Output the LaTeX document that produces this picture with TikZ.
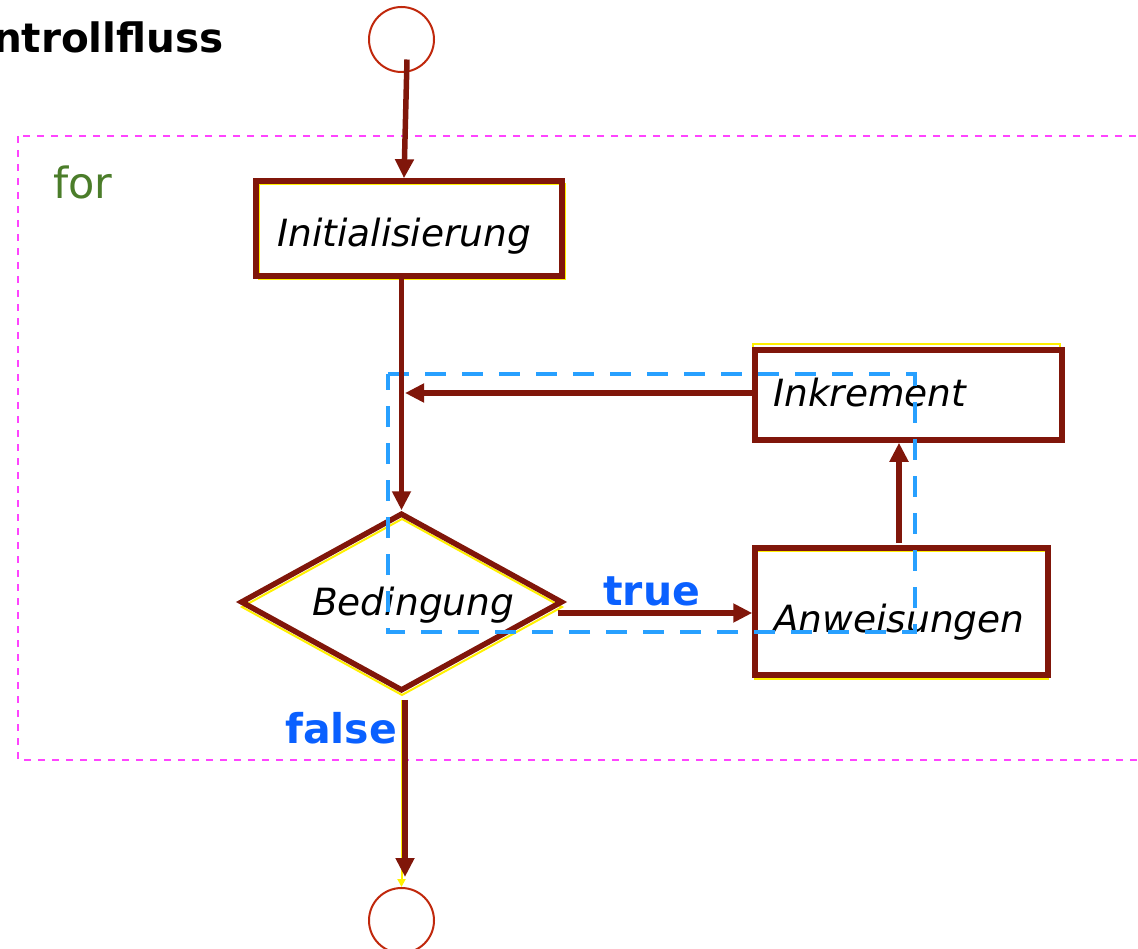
\documentclass[tikz,border=0pt]{standalone}
\usepackage{fontspec}
\setmainfont{DejaVu Sans}
\usetikzlibrary{shapes.geometric,arrows.meta}
\definecolor{flowred}{HTML}{80160A}
\definecolor{circred}{HTML}{C0280C}
\definecolor{hiyellow}{HTML}{FFF000}
\definecolor{loopblue}{HTML}{28A0FF}
\definecolor{kwblue}{HTML}{0A60FF}
\definecolor{forgreen}{HTML}{4B7D2A}
\definecolor{framepink}{HTML}{FF44FF}
\begin{document}
\begin{tikzpicture}[x=1pt,y=-1pt,
  box/.style={draw=flowred, line width=5.5pt, rectangle, inner sep=0pt},
  glow/.style={draw=hiyellow, line width=2pt},
  arr/.style={draw=flowred, line width=5.5pt, -{Triangle[length=19pt,width=18pt]}},
  terminal/.style={circle, draw=circred, line width=2pt, minimum size=65pt, inner sep=0pt},
  lbl/.style={font=\fontsize{37.5}{44}\selectfont\itshape, inner sep=0pt, anchor=base west},
  keyword/.style={font=\fontsize{41}{48}\selectfont\bfseries, text=kwblue, inner sep=0pt, anchor=base west}]
\useasboundingbox (0,0) rectangle (1138,949);

% heading
\node[font=\fontsize{40.5}{48}\selectfont\bfseries, inner sep=0pt, anchor=base east] (title) at (224,53) {Kontrollfluss};

% frame of the for statement
\draw[draw=framepink, line width=1.8pt, dash pattern=on 7pt off 7pt] (18,136) rectangle (1150,760);
\node[font=\fontsize{43}{50}\selectfont, text=forgreen, inner sep=0pt, anchor=base west] (forlbl) at (53,199) {for};

% yellow offsets behind the shapes
\draw[glow] (259,184) rectangle (565,279);
\draw[glow] (753,344) rectangle (1060,438);
\draw[glow] (755,551) rectangle (1048,679);
\draw[glow] (402,519) -- (562,607) -- (402,695) -- (242,607) -- cycle;

% start and end
\node[terminal] (start) at (401.5,39.5) {};
\node[terminal] (stop) at (401.5,920.5) {};

% blocks
\node[box, minimum width=306pt, minimum height=95pt] (init) at (409,228.5) {};
\node[box, minimum width=307pt, minimum height=90pt] (ink) at (908.3,395) {};
\node[box, minimum width=293pt, minimum height=127pt] (anw) at (901.5,611.5) {};
\node[diamond, draw=flowred, line width=5.5pt, minimum width=322pt, minimum height=178pt, inner sep=0pt] (cond) at (401.5,602) {};

\node[lbl] (initlbl) at (277,247) {Initialisierung};
\node[lbl] (inklbl) at (773,407) {Inkrement};
\node[lbl] (anwlbl) at (773,632) {Anweisungen};
\node[lbl] (condlbl) at (312,615) {Bedingung};

% loop body outline
\draw[draw=loopblue, line width=4.5pt, dash pattern=on 21pt off 16pt] (388,374) -- (915,374) -- (915,632) -- (388,632) -- cycle;

% connectors
\coordinate (join) at (405,393);
\coordinate (tstart) at (558,613);
\coordinate (upfoot) at (899,543);

\draw[arr] ([xshift=5.5pt,yshift=-20pt]start.center) -- ([xshift=-5pt]init.north);
\draw[arr] (cond.north |- init.south) -- (cond.north);
\draw[arr] ([yshift=2pt]ink.west) -- (join);
\draw[arr] (tstart) -- (tstart -| anw.west);
\draw[arr] (upfoot) -- (upfoot |- ink.south);
\draw[draw=hiyellow, line width=2pt, -{Triangle[length=8pt,width=8pt]}] ([yshift=-6pt]cond.south) -- (stop.north);
\draw[arr] ([xshift=3.5pt,yshift=-6pt]cond.south) -- ([xshift=3.5pt,yshift=10pt]stop.north);

\node[keyword] (truelbl) at (603,605) {true};
\node[keyword] (falselbl) at (285,743) {false};
\end{tikzpicture}
\end{document}
